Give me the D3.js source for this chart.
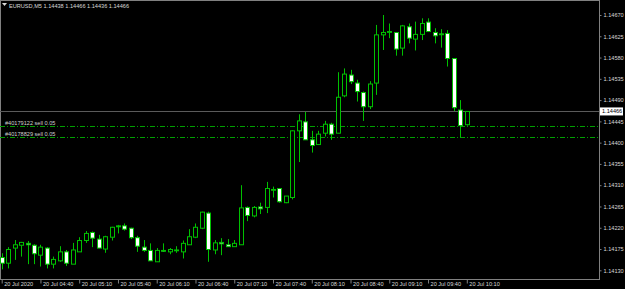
<!DOCTYPE html>
<html><head><meta charset="utf-8">
<script src="https://cdn.jsdelivr.net/npm/d3@7"></script>
<style>
html,body{margin:0;padding:0;background:#000;}
svg{display:block;}
text{font-family:"Liberation Sans",Arial,sans-serif;}
</style></head>
<body>
<svg id="c" width="625" height="289"></svg>
<script>
const times = ["04:10","04:15","04:20","04:25","04:30","04:35","04:40","04:45","04:50","04:55",
"05:00","05:05","05:10","05:15","05:20","05:25","05:30","05:35","05:40","05:45",
"05:50","05:55","06:00","06:05","06:10","06:15","06:20","06:25","06:30","06:35",
"06:40","06:45","06:50","06:55","07:00","07:05","07:10","07:15","07:20","07:25",
"07:30","07:35","07:40","07:45","07:50","07:55","08:00","08:05","08:10","08:15",
"08:20","08:25","08:30","08:35","08:40","08:45","08:50","08:55","09:00","09:05",
"09:10","09:15","09:20","09:25","09:30","09:35","09:40","09:45","09:50","09:55",
"10:00","10:05","10:10"];

const open = [1.14157,1.14145,1.14177,1.14183,1.14187,1.14183,1.14162,1.14177,1.14143,1.14150,
1.14169,1.14143,1.14169,1.14193,1.14210,1.14196,1.14175,1.14200,1.14222,1.14224,
1.14219,1.14199,1.14179,1.14172,1.14148,1.14172,1.14169,1.14172,1.14169,1.14184,
1.14200,1.14219,1.14251,1.14173,1.14189,1.14184,1.14180,1.14184,1.14263,1.14245,
1.14264,1.14263,1.14300,1.14303,1.14273,1.14284,1.14425,1.14444,1.14406,1.14396,
1.14420,1.14439,1.14420,1.14499,1.14543,1.14526,1.14506,1.14476,1.14526,1.14628,
1.14634,1.14633,1.14600,1.14645,1.14619,1.14629,1.14655,1.14633,1.14630,1.14631,
1.14578,1.14469,1.14438];

const high = [1.14166,1.14179,1.14194,1.14190,1.14192,1.14185,1.14184,1.14179,1.14159,1.14181,
1.14173,1.14188,1.14200,1.14213,1.14212,1.14205,1.14203,1.14222,1.14226,1.14229,
1.14220,1.14203,1.14194,1.14187,1.14177,1.14187,1.14177,1.14181,1.14193,1.14217,
1.14229,1.14254,1.14254,1.14194,1.14198,1.14196,1.14194,1.14310,1.14265,1.14266,
1.14273,1.14317,1.14307,1.14304,1.14287,1.14426,1.14460,1.14465,1.14425,1.14425,
1.14446,1.14442,1.14549,1.14557,1.14554,1.14533,1.14508,1.14530,1.14649,1.14670,
1.14652,1.14633,1.14649,1.14652,1.14656,1.14663,1.14663,1.14642,1.14640,1.14638,
1.14578,1.14490,1.14466];

const low = [1.14132,1.14134,1.14152,1.14159,1.14143,1.14143,1.14138,1.14134,1.14134,1.14148,
1.14139,1.14143,1.14169,1.14188,1.14179,1.14177,1.14167,1.14193,1.14208,1.14214,
1.14196,1.14169,1.14169,1.14150,1.14148,1.14169,1.14164,1.14167,1.14155,1.14184,
1.14198,1.14217,1.14148,1.14164,1.14162,1.14180,1.14180,1.14184,1.14234,1.14242,
1.14249,1.14251,1.14284,1.14273,1.14272,1.14280,1.14359,1.14406,1.14379,1.14396,
1.14413,1.14406,1.14420,1.14496,1.14524,1.14487,1.14446,1.14471,1.14501,1.14596,
1.14621,1.14584,1.14584,1.14610,1.14595,1.14617,1.14635,1.14610,1.14601,1.14561,
1.14467,1.14411,1.14436];

const close = [1.14145,1.14174,1.14184,1.14189,1.14184,1.14165,1.14179,1.14143,1.14153,1.14169,
1.14145,1.14173,1.14193,1.14208,1.14198,1.14177,1.14201,1.14221,1.14224,1.14217,
1.14199,1.14181,1.14172,1.14150,1.14172,1.14171,1.14174,1.14173,1.14187,1.14201,
1.14221,1.14253,1.14174,1.14188,1.14186,1.14180,1.14187,1.14262,1.14246,1.14263,
1.14260,1.14303,1.14301,1.14275,1.14287,1.14425,1.14446,1.14406,1.14394,1.14418,
1.14439,1.14418,1.14496,1.14545,1.14529,1.14508,1.14476,1.14524,1.14628,1.14633,
1.14635,1.14598,1.14647,1.14621,1.14629,1.14652,1.14635,1.14626,1.14629,1.14578,
1.14474,1.14436,1.14466];

const xTickTimes = ["04:10","04:40","05:10","05:40","06:10","06:40","07:10","07:40","08:10","08:40","09:10","09:40","10:10"];
const xTickLabels = ["20 Jul 2020","20 Jul 04:40","20 Jul 05:10","20 Jul 05:40","20 Jul 06:10","20 Jul 06:40","20 Jul 07:10","20 Jul 07:40","20 Jul 08:10","20 Jul 08:40","20 Jul 09:10","20 Jul 09:40","20 Jul 10:10"];
const yTicks = [1.14670,1.14625,1.14580,1.14535,1.14490,1.14445,1.14400,1.14355,1.14310,1.14265,1.14220,1.14175,1.14130];
const symbolTitle = "EURUSD,M5";
const orders = [{label:"#40179122 sell 0.05", price:1.14436},{label:"#40178829 sell 0.05", price:1.14413}];
const bid = 1.14466;

const svg = d3.select("#c");
const W = 625, H = 289, plotRight = 599, plotBottom = 279;
const green = "#00c000";

svg.append("rect").attr("width",W).attr("height",H).attr("fill","#000");

const x = d3.scalePoint().domain(times).range([1.7, 466.8]);
const y = d3.scaleLinear().domain([1.14130, 1.14670]).range([270.3, 15]);

// frame
svg.append("line").attr("x1",0).attr("x2",plotRight).attr("y1",0.5).attr("y2",0.5).attr("stroke","#808080");
svg.append("line").attr("x1",0.5).attr("x2",0.5).attr("y1",0).attr("y2",plotBottom).attr("stroke","#808080");

// bid line
svg.append("line").attr("x1",0).attr("x2",plotRight).attr("y1",Math.round(y(bid))+0.5).attr("y2",Math.round(y(bid))+0.5)
  .attr("stroke","#5a5a5a").attr("stroke-width",1.2);

// order lines
orders.forEach(o=>{
  const yy = Math.round(y(o.price))+0.5;
  svg.append("line").attr("x1",0).attr("x2",plotRight).attr("y1",yy).attr("y2",yy)
    .attr("stroke","#00a000").attr("stroke-dasharray","5,2,1,2");
  svg.append("text").attr("x",5).attr("y",yy-2).attr("fill","#d0d0d0").attr("font-size","5.6px").text(o.label);
});

// candles
const data = times.map((t,i)=>({t,o:open[i],h:high[i],l:low[i],c:close[i]}));
const g = svg.append("g");
const bw = 4;
data.forEach(d=>{
  const cx = Math.round(x(d.t));
  g.append("line").attr("x1",cx+0.5).attr("x2",cx+0.5).attr("y1",y(d.h)).attr("y2",y(d.l))
    .attr("stroke",green).attr("stroke-width",1);
  const top = y(Math.max(d.o,d.c)), bot = y(Math.min(d.o,d.c));
  const bull = d.c >= d.o;
  g.append("rect").attr("x",cx-bw/2+0.5).attr("y",top).attr("width",bw).attr("height",Math.max(bot-top,0.8))
    .attr("fill", bull ? "#000" : "#fff").attr("stroke",green).attr("stroke-width",1);
});

// right axis
const ya = svg.append("g").attr("transform",`translate(${plotRight+0.5},0)`)
  .call(d3.axisRight(y).tickValues(yTicks).tickSize(2).tickFormat(d3.format(".5f")));
ya.select(".domain").attr("d",`M0,0V${plotBottom+0.5}`).attr("stroke","#808080");
ya.selectAll(".tick line").attr("stroke","#808080");
ya.selectAll(".tick text").attr("fill","#d8d8d8").attr("font-size","5.6px").attr("x",4).attr("font-family","Liberation Sans, Arial, sans-serif");

// bottom axis
const xa = svg.append("g").attr("transform",`translate(0,${plotBottom+0.5})`)
  .call(d3.axisBottom(x).tickValues(xTickTimes).tickSize(4).tickFormat((d,i)=>xTickLabels[i]));
xa.select(".domain").attr("d",`M0,0H${plotRight+1}`).attr("stroke","#808080");
xa.selectAll(".tick line").attr("stroke","#808080");
xa.selectAll(".tick text").attr("fill","#d8d8d8").attr("font-size","5.6px").attr("text-anchor","start")
  .attr("x",2).attr("y",3).attr("font-family","Liberation Sans, Arial, sans-serif");

// bid label box
const by = y(bid);
svg.append("rect").attr("x",600).attr("y",by-4).attr("width",23).attr("height",8).attr("fill","#fff");
svg.append("text").attr("x",602).attr("y",by+2).attr("fill","#000").attr("font-size","5.6px").text(d3.format(".5f")(bid));

// title
svg.append("path").attr("d","M2,3 L7,3 L4.5,6 Z").attr("fill","#d8d8d8");
svg.append("text").attr("x",9).attr("y",8).attr("fill","#d8d8d8").attr("font-size","5.6px")
  .text(`${symbolTitle}  ${d3.format(".5f")(open[72])} ${d3.format(".5f")(high[72])} ${d3.format(".5f")(low[72])} ${d3.format(".5f")(close[72])}`);
</script>
</body></html>
